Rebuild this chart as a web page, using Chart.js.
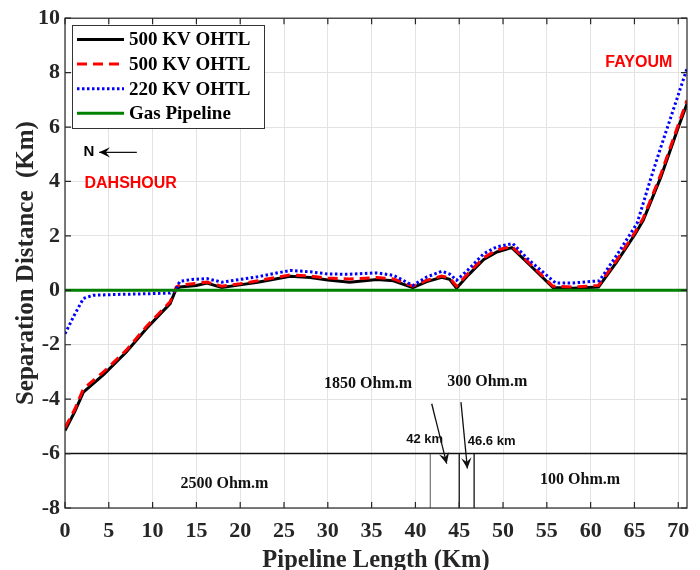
<!DOCTYPE html>
<html>
<head>
<meta charset="utf-8">
<script src="https://cdn.jsdelivr.net/npm/chart.js@4.4.1/dist/chart.umd.min.js"></script>
<style>
  html, body { margin: 0; padding: 0; background: #fff; }
</style>
</head>
<body>
<canvas id="chart" width="700" height="570"></canvas>
<script>
// distances along the pipeline (km) and separation (km)
const km500 = [0, 1.1, 2.1, 4.4, 7, 9.3, 12, 12.7, 13.1, 15, 16.2, 17.9, 20, 22, 25.7, 28, 30, 32.5, 35.6, 37.5, 39.7, 41.3, 43, 43.9, 44.7, 46, 47.8, 49.3, 51, 53, 55.7, 58, 60.9, 63, 65.1, 66, 68, 70, 71];
const sep500a = [-5.15, -4.47, -3.74, -3.1, -2.27, -1.4, -0.49, 0.06, 0.12, 0.18, 0.27, 0.1, 0.2, 0.3, 0.52, 0.47, 0.38, 0.3, 0.4, 0.35, 0.1, 0.32, 0.48, 0.4, 0.08, 0.55, 1.13, 1.41, 1.57, 0.95, 0.1, 0.08, 0.12, 1.05, 2.08, 2.57, 4.15, 5.98, 6.86];
const sep500b = [-5.05, -4.38, -3.62, -3.0, -2.2, -1.33, -0.42, 0.12, 0.2, 0.25, 0.3, 0.15, 0.24, 0.35, 0.57, 0.52, 0.45, 0.42, 0.47, 0.42, 0.15, 0.37, 0.52, 0.45, 0.15, 0.62, 1.2, 1.48, 1.62, 1.0, 0.15, 0.12, 0.18, 1.12, 2.15, 2.65, 4.25, 6.08, 6.98];
const km220 = [0, 1, 2.1, 3.2, 6, 9, 12, 12.6, 13.1, 14.5, 16.2, 17.9, 20, 22, 25.7, 28, 30, 32.5, 35.6, 37.5, 39.7, 41.3, 43, 43.9, 44.7, 46, 47.8, 49.3, 51.1, 53, 56, 58, 61, 63, 65.3, 66.8, 67.9, 71];
const sep220 = [-1.6, -0.95, -0.3, -0.18, -0.15, -0.13, -0.1, 0.0, 0.33, 0.4, 0.43, 0.3, 0.4, 0.5, 0.73, 0.68, 0.6, 0.59, 0.64, 0.55, 0.18, 0.49, 0.7, 0.6, 0.37, 0.75, 1.35, 1.6, 1.72, 1.1, 0.27, 0.27, 0.35, 1.3, 2.46, 4.04, 5.15, 8.15];
const pipeKm = [0, 71];
const pipeSep = [0, 0];

// soil resistivity strip
const layerKm = [0, 71];
const layerSep = [-6, -6];
const boundaryKm = [41.7, 45, 46.7];
const boundarySep = [-6, -8];

const seriesNames = ['500 KV OHTL', '500 KV OHTL', '220 KV OHTL', 'Gas Pipeline'];
const xTicks = [0, 5, 10, 15, 20, 25, 30, 35, 40, 45, 50, 55, 60, 65, 70];
const yTicks = [-8, -6, -4, -2, 0, 2, 4, 6, 8, 10];

// annotations (in axis units)
const soilLabels = ['2500 Ohm.m', '1850 Ohm.m', '300 Ohm.m', '100 Ohm.m'];
const soilLabelKm = [18.2, 34.6, 48.2, 58.8];
const soilLabelSep = [-7.12, -3.42, -3.38, -6.95];
const kmLabels = ['42 km', '46.6 km'];
const kmLabelKm = [41.06, 48.7];
const kmLabelSep = [-5.48, -5.55];
const arrowFromKm = [41.86, 45.2];
const arrowFromSep = [-4.17, -4.11];
const arrowToKm = [43.57, 45.93];
const arrowToSep = [-6.37, -6.55];
const placeNames = ['DAHSHOUR', 'FAYOUM'];
const placeKm = [7.5, 65.5];
const placeSep = [3.93, 8.38];

const serif = '"Liberation Serif", "Times New Roman", serif';
const sans = '"Liberation Sans", Arial, sans-serif';

function pts(xs, ys) {
  return xs.map((x, i) => ({ x: x, y: ys[i] }));
}

function arrow(ctx, x1, y1, x2, y2, head) {
  const a = Math.atan2(y2 - y1, x2 - x1);
  ctx.beginPath();
  ctx.moveTo(x1, y1);
  ctx.lineTo(x2, y2);
  ctx.stroke();
  ctx.beginPath();
  ctx.moveTo(x2, y2);
  ctx.lineTo(x2 - head * Math.cos(a - 0.45), y2 - head * Math.sin(a - 0.45));
  ctx.lineTo(x2 - head * 0.55 * Math.cos(a), y2 - head * 0.55 * Math.sin(a));
  ctx.lineTo(x2 - head * Math.cos(a + 0.45), y2 - head * Math.sin(a + 0.45));
  ctx.closePath();
  ctx.fill();
}

const extras = {
  id: 'extras',
  afterDatasetsDraw(chart) {
    const { ctx, chartArea: a, scales: { x, y } } = chart;
    ctx.save();
    ctx.textAlign = 'center';
    ctx.textBaseline = 'middle';

    // soil labels
    ctx.fillStyle = '#111';
    ctx.font = 'bold 16px ' + serif;
    soilLabels.forEach((t, i) => {
      ctx.fillText(t, x.getPixelForValue(soilLabelKm[i]), y.getPixelForValue(soilLabelSep[i]));
    });
    ctx.font = 'bold 13px ' + sans;
    kmLabels.forEach((t, i) => {
      ctx.fillText(t, x.getPixelForValue(kmLabelKm[i]), y.getPixelForValue(kmLabelSep[i]));
    });
    ctx.strokeStyle = '#111';
    ctx.fillStyle = '#111';
    ctx.lineWidth = 1.3;
    arrowFromKm.forEach((v, i) => {
      arrow(ctx, x.getPixelForValue(v), y.getPixelForValue(arrowFromSep[i]),
        x.getPixelForValue(arrowToKm[i]), y.getPixelForValue(arrowToSep[i]), 12);
    });

    // north arrow
    const ny = y.getPixelForValue(5.07);
    ctx.font = 'bold 15px ' + sans;
    ctx.fillStyle = '#000';
    ctx.fillText('N', x.getPixelForValue(2.74), ny);
    arrow(ctx, x.getPixelForValue(8.2), ny, x.getPixelForValue(3.9), ny, 12);

    // place names
    ctx.fillStyle = '#ff0000';
    ctx.font = 'bold 16px ' + sans;
    placeNames.forEach((t, i) => {
      ctx.fillText(t, x.getPixelForValue(placeKm[i]), y.getPixelForValue(placeSep[i]));
    });

    // legend
    const lx = 72, ly = 25, lw = 192, lh = 103;
    ctx.fillStyle = '#fff';
    ctx.fillRect(lx, ly, lw, lh);
    ctx.strokeStyle = '#333';
    ctx.lineWidth = 1;
    ctx.strokeRect(lx + 0.5, ly + 0.5, lw, lh);
    ctx.textAlign = 'left';
    ctx.font = 'bold 19px ' + serif;
    chart.data.datasets.slice(0, 4).forEach((ds, i) => {
      const ry = 39.5 + i * 24.6;
      ctx.save();
      ctx.strokeStyle = ds.borderColor;
      ctx.lineWidth = ds.borderWidth;
      ctx.setLineDash(ds.borderDash || []);
      ctx.beginPath();
      ctx.moveTo(77, ry);
      ctx.lineTo(124, ry);
      ctx.stroke();
      ctx.restore();
      ctx.fillStyle = '#000';
      ctx.fillText(seriesNames[i], 129, ry + 1);
    });

    // axes box with inward ticks
    ctx.strokeStyle = '#262626';
    ctx.lineWidth = 1.2;
    ctx.strokeRect(a.left, a.top, a.width, a.height);
    ctx.beginPath();
    xTicks.forEach(v => {
      const px = x.getPixelForValue(v);
      ctx.moveTo(px, a.bottom); ctx.lineTo(px, a.bottom - 6);
      ctx.moveTo(px, a.top); ctx.lineTo(px, a.top + 6);
    });
    yTicks.forEach(v => {
      const py = y.getPixelForValue(v);
      ctx.moveTo(a.left, py); ctx.lineTo(a.left + 6, py);
      ctx.moveTo(a.right, py); ctx.lineTo(a.right - 6, py);
    });
    ctx.stroke();
    ctx.restore();
  }
};

const boundaryColors = ['#7f7f7f', '#111', '#111'];
const boundarySets = boundaryKm.map((k, i) => ({
  data: pts([k, k], boundarySep),
  borderColor: boundaryColors[i],
  borderWidth: 1.3,
  order: 6
}));

const ctx = document.getElementById('chart').getContext('2d');
new Chart(ctx, {
  type: 'line',
  data: {
    datasets: [
      { data: pts(km500, sep500a), borderColor: '#000000', borderWidth: 3, order: 4 },
      { data: pts(km500, sep500b), borderColor: '#ff0000', borderWidth: 3, borderDash: [10, 6], order: 3 },
      { data: pts(km220, sep220), borderColor: '#0000ff', borderWidth: 3, borderDash: [2.5, 2.5], order: 2 },
      { data: pts(pipeKm, pipeSep), borderColor: '#008000', borderWidth: 3, order: 1 },
      { data: pts(layerKm, layerSep), borderColor: '#111', borderWidth: 1.5, order: 5 },
      ...boundarySets
    ]
  },
  options: {
    responsive: false,
    animation: false,
    elements: { point: { radius: 0 }, line: { tension: 0, fill: false, borderCapStyle: 'butt' } },
    layout: { padding: { top: 18, right: 13, left: 0, bottom: 0 } },
    plugins: { legend: { display: false }, tooltip: { enabled: false } },
    scales: {
      x: {
        type: 'linear',
        min: 0,
        max: 71,
        afterBuildTicks: s => { s.ticks = xTicks.map(v => ({ value: v })); },
        afterFit: s => { s.height = 62; },
        grid: { color: '#e3e3e3', drawTicks: false },
        border: { display: false },
        ticks: { color: '#262626', padding: 10, font: { family: serif, size: 22, weight: 'bold' } },
        title: {
          display: true,
          text: 'Pipeline Length (Km)',
          color: '#262626',
          padding: 0,
          font: { family: serif, size: 24.5, weight: 'bold', lineHeight: 0.75 }
        }
      },
      y: {
        type: 'linear',
        min: -8,
        max: 10,
        afterBuildTicks: s => { s.ticks = yTicks.map(v => ({ value: v })); },
        afterFit: s => { s.width = 65; },
        grid: { color: '#e3e3e3', drawTicks: false },
        border: { display: false },
        ticks: { color: '#262626', padding: 5, font: { family: serif, size: 22, weight: 'bold' } },
        title: {
          display: true,
          text: 'Separation Distance  (Km)',
          color: '#262626',
          padding: { top: 12, bottom: 0 },
          font: { family: serif, size: 25, weight: 'bold' }
        }
      }
    }
  },
  plugins: [extras]
});
</script>
</body>
</html>
